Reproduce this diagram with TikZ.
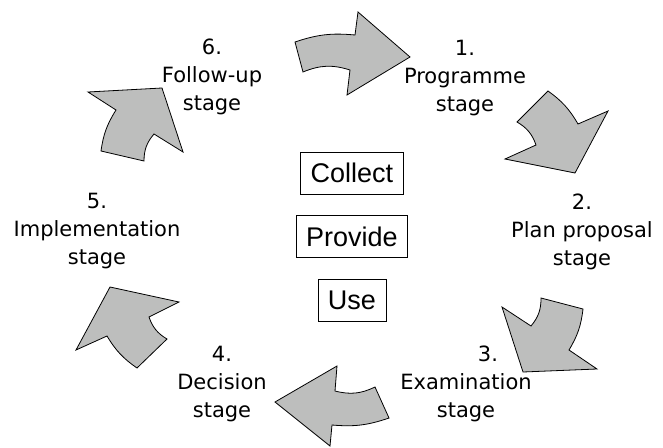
\documentclass[tikz,border=0pt]{standalone}
\usepackage{fontspec}
\usepackage{xcolor}
\newfontfamily\stagefont{DejaVu Sans}
\newfontfamily\boxfont{Liberation Sans}
\definecolor{arrowgray}{RGB}{189,190,189}
\usetikzlibrary{positioning}

\begin{document}
\begin{tikzpicture}[%
    x=1pt, y=-1pt,              % work in picture pixels, y going down
    node distance=21pt,         % gap between the three boxes
    ]
% -------------------------------------------------
% Styles
\tikzset{
stage/.style={align=center, inner sep=0pt, font=\stagefont\fontsize{21}{28}\selectfont},
actbox/.style={draw, line width=0.8pt, minimum height=42pt, inner xsep=10pt, font=\boxfont\fontsize{27}{30}\selectfont},
bigarrow/.style={draw, fill=arrowgray, line width=0.8pt, line join=miter},
outerarc/.style={bend left=12},
innerarc/.style={bend right=20},
}
\useasboundingbox (0,0) rectangle (663,447);
% -------------------------------------------------
% Stage labels round the cycle
\node [stage] (programme) at (465,78) {1.\\Programme\\stage};
\node [stage] (plan) at (582,232) {2.\\Plan proposal\\stage};
\node [stage] (examination) at (466,384) {\hspace*{44pt}3.\\Examination\\stage};
\node [stage] (decision) at (222,384) {4.\\Decision\\stage};
\node [stage] (implementation) at (97,231) {5.\\Implementation\\stage};
\node [stage] (followup) at (212,77) {6.\\Follow-up\\stage};

% Boxes in the middle
\node [actbox] (collect) at (352,173) {Collect};
\node [actbox, below=of collect] (provide) {Provide};
\node [actbox, below=of provide] (use) {Use};

% -------------------------------------------------
% Curved block arrows, clockwise
% 6 -> 1
\draw [bigarrow] (295,42) to[outerarc] (355,35) -- (358,12) -- (410,57) -- (347,95) -- (350,70) to[innerarc] (303,72) -- cycle;
% 1 -> 2
\draw [bigarrow] (548,91) to[outerarc] (578,124) -- (608,111) -- (575,173) -- (505,159) -- (536,145) to[innerarc] (517,122) -- cycle;
% 2 -> 3
\draw [bigarrow] (583,309) to[outerarc] (569,350) -- (597,369) -- (523,372) -- (502,307) -- (531,326) to[innerarc] (541,298) -- cycle;
% 3 -> 4
\draw [bigarrow] (389,418) to[outerarc] (332,425) -- (330,446) -- (275,402) -- (337,366) -- (335,391) to[innerarc] (375,387) -- cycle;
% 4 -> 5
\draw [bigarrow] (137,368) to[outerarc] (107,336) -- (76,350) -- (110,287) -- (179,302) -- (149,317) to[innerarc] (167,339) -- cycle;
% 5 -> 6
\draw [bigarrow] (101,151) to[outerarc] (116,110) -- (88,92) -- (162,88) -- (183,152) -- (154,134) to[innerarc] (144,161) -- cycle;

\end{tikzpicture}
\end{document}
